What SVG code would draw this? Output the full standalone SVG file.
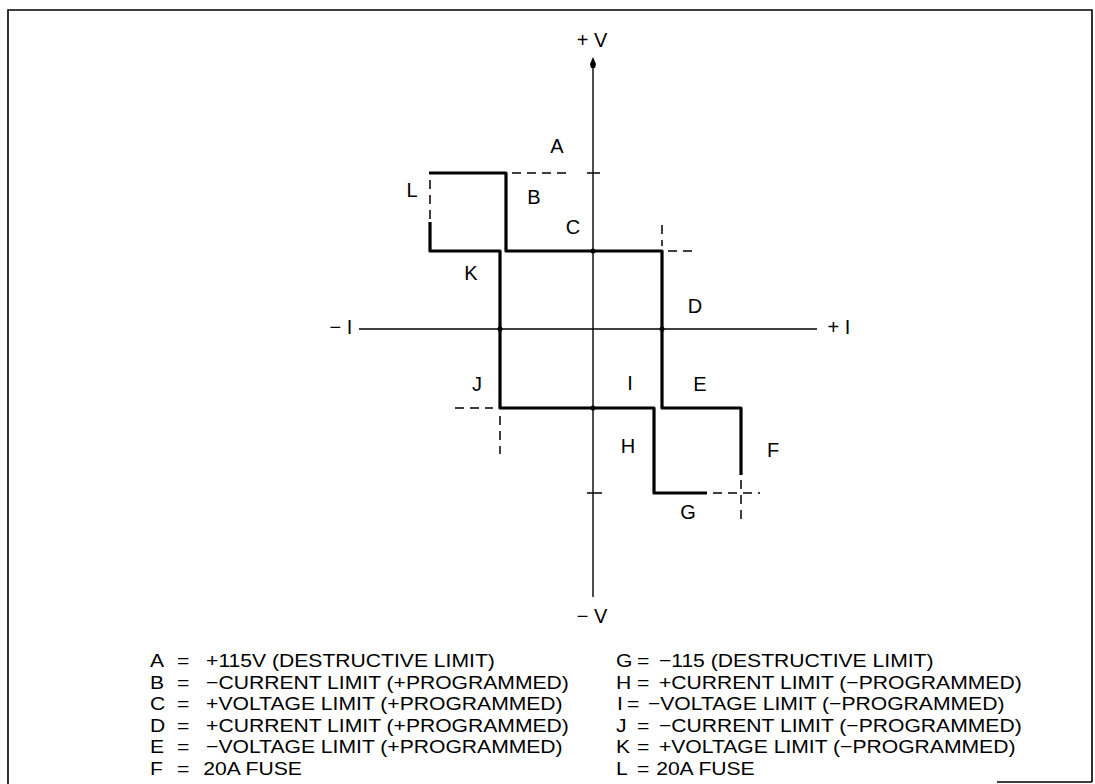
<svg xmlns="http://www.w3.org/2000/svg" width="1095" height="784" viewBox="0 0 1095 784">
<style>
.bg{fill:#ffffff}
.frame{fill:none;stroke:#000;stroke-width:1.6}
.axis{fill:none;stroke:#000;stroke-width:1.4}
.trace{fill:none;stroke:#000;stroke-width:3.2;stroke-linejoin:round}
.dash{fill:none;stroke:#000;stroke-width:1.5;stroke-dasharray:9,6}
.tick{fill:none;stroke:#000;stroke-width:1.5}
.lbl{font-family:"Liberation Sans",Arial,sans-serif;font-size:20px;fill:#000;text-anchor:middle}
.leg{font-family:"Liberation Sans",Arial,sans-serif;font-size:19.2px;fill:#000}
</style>
<rect class="bg" x="0" y="0" width="1095" height="784"/>
<g id="frame">
<path class="frame" d="M8,784 V10 H1092 V782 M997,782 H1092"/>
</g>
<g id="axes">
<line class="axis" x1="593" y1="64" x2="593" y2="597"/>
<path d="M593,57 L596,64 L595,68 L591,68 L590,64 Z" fill="#000"/>
<line class="axis" x1="359" y1="329" x2="817" y2="329"/>
<line class="tick" x1="587" y1="173" x2="600" y2="173"/>
<line class="tick" x1="587" y1="493" x2="602" y2="493"/>
<text class="lbl" x="592" y="47">+ V</text>
<text class="lbl" x="592" y="623">− V</text>
<text class="lbl" x="341" y="334">− I</text>
<text class="lbl" x="839" y="334">+ I</text>
</g>
<g id="connectors">
<path class="trace" d="M429,173 H506 V251 H662 V408 H741 V475"/>
<path class="trace" d="M430,222 V251 H500 V408 H654 V493 H707"/>
<line class="dash" x1="512" y1="173" x2="566" y2="173"/>
<line class="dash" x1="430" y1="180" x2="430" y2="220"/>
<line class="dash" x1="668" y1="251" x2="695" y2="251"/>
<line class="dash" x1="662" y1="225" x2="662" y2="246"/>
<line class="dash" x1="455" y1="408" x2="493" y2="408"/>
<line class="dash" x1="500" y1="416" x2="500" y2="454"/>
<line class="dash" x1="741" y1="480" x2="741" y2="520"/>
<line class="dash" x1="713" y1="493" x2="760" y2="493"/>
<circle cx="593" cy="251" r="2.5" fill="#000"/>
<circle cx="593" cy="408" r="2.5" fill="#000"/>
<circle cx="500" cy="329" r="2.5" fill="#000"/>
<circle cx="662" cy="329" r="2.5" fill="#000"/>
</g>
<g id="labels">
<text class="lbl" x="557" y="153">A</text>
<text class="lbl" x="534" y="204">B</text>
<text class="lbl" x="573" y="234">C</text>
<text class="lbl" x="695" y="313">D</text>
<text class="lbl" x="700" y="391">E</text>
<text class="lbl" x="773" y="457">F</text>
<text class="lbl" x="688" y="519">G</text>
<text class="lbl" x="628" y="453">H</text>
<text class="lbl" x="630" y="390">I</text>
<text class="lbl" x="477" y="391">J</text>
<text class="lbl" x="471" y="280">K</text>
<text class="lbl" x="412" y="197">L</text>
</g>
<g id="legend-left" class="leg" transform="translate(150,0) scale(1.1,1) translate(-150,0)">
<text y="667"><tspan x="150">A</tspan><tspan x="174.5">=</tspan><tspan x="201">+115V (DESTRUCTIVE LIMIT)</tspan></text>
<text y="688.6"><tspan x="150">B</tspan><tspan x="174.5">=</tspan><tspan x="201">−CURRENT LIMIT (+PROGRAMMED)</tspan></text>
<text y="710.2"><tspan x="150">C</tspan><tspan x="174.5">=</tspan><tspan x="201">+VOLTAGE LIMIT (+PROGRAMMED)</tspan></text>
<text y="731.8"><tspan x="150">D</tspan><tspan x="174.5">=</tspan><tspan x="201">+CURRENT LIMIT (+PROGRAMMED)</tspan></text>
<text y="753.4"><tspan x="150">E</tspan><tspan x="174.5">=</tspan><tspan x="201">−VOLTAGE LIMIT (+PROGRAMMED)</tspan></text>
<text y="775"><tspan x="150">F</tspan><tspan x="174.5">=</tspan><tspan x="198.5">20A FUSE</tspan></text>
</g>
<g id="legend-right" class="leg" transform="translate(616,0) scale(1.1,1) translate(-616,0)">
<text y="667"><tspan x="616">G</tspan><tspan x="635">=</tspan><tspan x="655">−115 (DESTRUCTIVE LIMIT)</tspan></text>
<text y="688.6"><tspan x="616">H</tspan><tspan x="635">=</tspan><tspan x="655">+CURRENT LIMIT (−PROGRAMMED)</tspan></text>
<text y="710.2"><tspan x="617">I</tspan><tspan x="626">=</tspan><tspan x="645">−VOLTAGE LIMIT (−PROGRAMMED)</tspan></text>
<text y="731.8"><tspan x="616">J</tspan><tspan x="635">=</tspan><tspan x="655">−CURRENT LIMIT (−PROGRAMMED)</tspan></text>
<text y="753.4"><tspan x="616">K</tspan><tspan x="635">=</tspan><tspan x="655">+VOLTAGE LIMIT (−PROGRAMMED)</tspan></text>
<text y="775"><tspan x="616">L</tspan><tspan x="635">=</tspan><tspan x="652.5">20A FUSE</tspan></text>
</g>
</svg>
